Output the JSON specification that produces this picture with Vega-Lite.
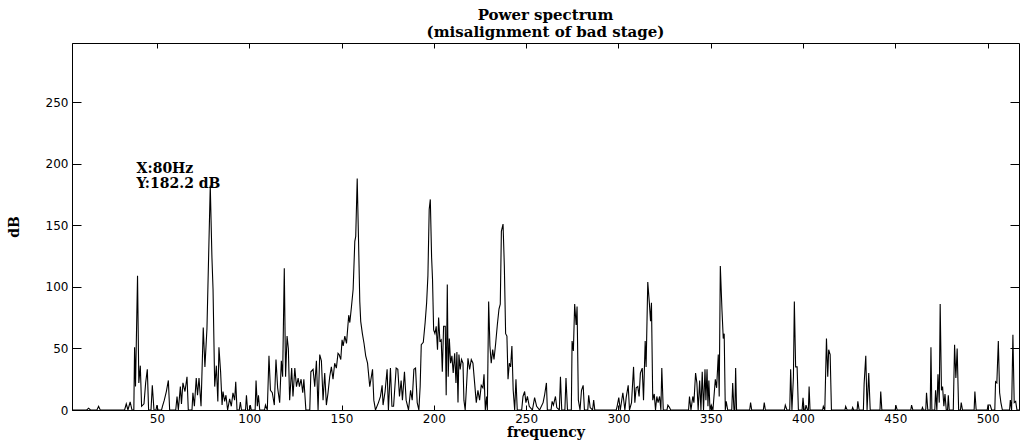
{
  "$schema": "https://vega.github.io/schema/vega-lite/v6.json",
  "width": 947,
  "height": 367,
  "autosize": {"type": "none"},
  "padding": {"left": 72, "top": 43, "right": 7, "bottom": 35},
  "background": "white",
  "title": {
    "text": ["Power spectrum", "(misalignment of bad stage)"],
    "font": "DejaVu Serif",
    "fontWeight": "bold",
    "fontSize": 15,
    "lineHeight": 17,
    "color": "black",
    "offset": 3,
    "anchor": "middle"
  },
  "config": {
    "view": {"stroke": "black", "strokeWidth": 1},
    "axis": {
      "grid": false,
      "domainColor": "black",
      "tickColor": "black",
      "labelColor": "black",
      "titleColor": "black",
      "labelFont": "DejaVu Sans",
      "labelFontSize": 12,
      "titleFont": "DejaVu Serif",
      "titleFontWeight": "bold",
      "titleFontSize": 14,
      "labelFlush": false,
      "labelOverlap": false
    }
  },
  "layer": [
    {
      "data": {
        "values": [
          {"f":4,"dB":0},{"f":12,"dB":0},{"f":13,"dB":1.5},{"f":14,"dB":0},{"f":17.5,"dB":0},{"f":18.4,"dB":3},{"f":19.3,"dB":0},
          {"f":32.5,"dB":0},{"f":33.4,"dB":5},{"f":34.3,"dB":0},{"f":35.5,"dB":6.5},{"f":36.5,"dB":0},{"f":37.5,"dB":0},{"f":37.9,"dB":51},{"f":38.4,"dB":19},{"f":39.5,"dB":109},{"f":40.2,"dB":22},{"f":41,"dB":36},{"f":41.7,"dB":3},{"f":43,"dB":5},{"f":43.9,"dB":22},{"f":44.8,"dB":33},{"f":45.5,"dB":0},
          {"f":46.8,"dB":0},{"f":47.5,"dB":20},{"f":48.4,"dB":0},{"f":49.5,"dB":0},{"f":50,"dB":4},{"f":50.6,"dB":0},{"f":52.5,"dB":0},{"f":53,"dB":3},{"f":54,"dB":8},{"f":55.1,"dB":15},{"f":56.2,"dB":24},{"f":56.9,"dB":0},
          {"f":60.2,"dB":0},{"f":60.9,"dB":11},{"f":61.6,"dB":0},{"f":62.7,"dB":19},{"f":63.3,"dB":5},{"f":64.1,"dB":22},{"f":65.2,"dB":15},{"f":66.3,"dB":27},{"f":67,"dB":0},{"f":69,"dB":0},{"f":69.5,"dB":14},{"f":70.3,"dB":3},{"f":71.3,"dB":26},{"f":72,"dB":12},{"f":72.8,"dB":26},{"f":73.9,"dB":3},
          {"f":75.1,"dB":67},{"f":76,"dB":35},{"f":77.1,"dB":66},{"f":78.9,"dB":182.2},{"f":79.8,"dB":124},{"f":80.4,"dB":98},{"f":81.3,"dB":19},{"f":82.2,"dB":36},{"f":83,"dB":7},{"f":83.6,"dB":51},{"f":84.5,"dB":31},{"f":85.3,"dB":4},{"f":85.8,"dB":15},{"f":86.7,"dB":7},{"f":87.4,"dB":12},{"f":88.3,"dB":0},{"f":89.4,"dB":9},{"f":90.3,"dB":3},{"f":91.2,"dB":14},{"f":92.1,"dB":8},{"f":92.7,"dB":23},{"f":93.4,"dB":0},
          {"f":94.6,"dB":0},{"f":95.2,"dB":6.5},{"f":95.8,"dB":0},{"f":98,"dB":0},{"f":98.5,"dB":12},{"f":99.1,"dB":0},{"f":100.2,"dB":0},{"f":100.6,"dB":4},{"f":101.1,"dB":0},{"f":103.2,"dB":0},{"f":103.7,"dB":24},{"f":104.4,"dB":3},{"f":105,"dB":12},{"f":105.7,"dB":0},
          {"f":108.3,"dB":0},{"f":108.8,"dB":4},{"f":109.8,"dB":0},{"f":110.7,"dB":44},{"f":111.5,"dB":16},{"f":112.5,"dB":14},{"f":113.6,"dB":4},{"f":114.5,"dB":41},{"f":115.4,"dB":18},{"f":116.5,"dB":6},{"f":117.4,"dB":40},{"f":118.1,"dB":27},{"f":119,"dB":115},{"f":119.7,"dB":27},{"f":120.5,"dB":60},{"f":121.2,"dB":50},{"f":121.9,"dB":8},{"f":123,"dB":34},{"f":123.7,"dB":11},{"f":124.7,"dB":34},{"f":125.6,"dB":19},{"f":126.5,"dB":26},{"f":127.2,"dB":19},{"f":128.1,"dB":25},{"f":129,"dB":14},{"f":129.6,"dB":25},{"f":130.7,"dB":0},
          {"f":132.8,"dB":0},{"f":133.4,"dB":31},{"f":134.6,"dB":33},{"f":135.5,"dB":19},{"f":136.4,"dB":40},{"f":137.3,"dB":0},{"f":138.2,"dB":45},{"f":139.1,"dB":40},{"f":140,"dB":8},{"f":140.9,"dB":30},{"f":141.8,"dB":4},{"f":142.7,"dB":14},{"f":143.6,"dB":27},{"f":144.5,"dB":35},{"f":145.4,"dB":25},{"f":146.3,"dB":38},{"f":147.2,"dB":34},{"f":148.1,"dB":46},{"f":148.7,"dB":45},{"f":149.6,"dB":41},{"f":150.3,"dB":57},{"f":150.9,"dB":52},{"f":151.8,"dB":60},{"f":152.7,"dB":54},{"f":153.9,"dB":77},{"f":154.5,"dB":71},{"f":155.4,"dB":84},{"f":156.3,"dB":98},{"f":157.2,"dB":137},{"f":157.7,"dB":141},{"f":158.5,"dB":188},{"f":159.2,"dB":139},{"f":159.9,"dB":88},{"f":160.4,"dB":72},{"f":161.3,"dB":62},{"f":162.2,"dB":54},{"f":163.1,"dB":44},{"f":164.1,"dB":38},{"f":165.3,"dB":19},{"f":166.8,"dB":33},{"f":167.5,"dB":8},{"f":168.4,"dB":0},
          {"f":170,"dB":6},{"f":171.1,"dB":11},{"f":172,"dB":20},{"f":172.5,"dB":4},{"f":173.6,"dB":15},{"f":174.7,"dB":33},{"f":175.4,"dB":0},{"f":176.5,"dB":34},{"f":177.3,"dB":3},{"f":178.2,"dB":3},{"f":179.6,"dB":34},{"f":180.5,"dB":33},{"f":181.4,"dB":11},{"f":182.3,"dB":24},{"f":183,"dB":8},{"f":184.1,"dB":31},{"f":185,"dB":8},{"f":186.3,"dB":0},{"f":187.4,"dB":16},{"f":188.3,"dB":8},{"f":189.2,"dB":33},{"f":190.1,"dB":34},{"f":191,"dB":6},{"f":191.9,"dB":0},
          {"f":192.6,"dB":19},{"f":193.2,"dB":53},{"f":194.3,"dB":55},{"f":195.3,"dB":71},{"f":196.1,"dB":87},{"f":196.8,"dB":109},{"f":197.5,"dB":163},{"f":198.1,"dB":171},{"f":198.8,"dB":124},{"f":199.3,"dB":106},{"f":199.9,"dB":65},{"f":200.6,"dB":62},{"f":201.3,"dB":68},{"f":202,"dB":49},{"f":202.6,"dB":75},{"f":203.3,"dB":56},{"f":204,"dB":57},{"f":204.6,"dB":31},{"f":205.3,"dB":68},{"f":206.2,"dB":68},{"f":206.7,"dB":12},{"f":207.3,"dB":102},{"f":207.8,"dB":27},{"f":208.4,"dB":58},{"f":209.1,"dB":38},{"f":209.8,"dB":44},{"f":210.5,"dB":30},{"f":211.3,"dB":46},{"f":212,"dB":22},{"f":212.5,"dB":47},{"f":213.1,"dB":6},{"f":213.6,"dB":45},{"f":214.3,"dB":33},{"f":215,"dB":41},{"f":215.8,"dB":38},{"f":216.3,"dB":8},{"f":217,"dB":0},
          {"f":217.8,"dB":22},{"f":218.5,"dB":42},{"f":219.4,"dB":33},{"f":220.3,"dB":41},{"f":221.2,"dB":38},{"f":222.1,"dB":22},{"f":223,"dB":6},{"f":223.9,"dB":16},{"f":224.8,"dB":8},{"f":225.7,"dB":20},{"f":226.6,"dB":18},{"f":227.2,"dB":29},{"f":227.9,"dB":0},{"f":228.6,"dB":11},{"f":229,"dB":0},
          {"f":229.7,"dB":88},{"f":230.4,"dB":52},{"f":231.1,"dB":38},{"f":231.9,"dB":49},{"f":232.6,"dB":41},{"f":233.5,"dB":54},{"f":234.4,"dB":69},{"f":235.3,"dB":82},{"f":236,"dB":86},{"f":236.6,"dB":145},{"f":237.5,"dB":151},{"f":238.2,"dB":117},{"f":238.9,"dB":62},{"f":239.6,"dB":60},{"f":240.2,"dB":25},{"f":240.9,"dB":38},{"f":241.6,"dB":35},{"f":242.3,"dB":52},{"f":243,"dB":16},{"f":243.8,"dB":0},{"f":244.5,"dB":25},{"f":245.2,"dB":0},
          {"f":247.6,"dB":0},{"f":248.3,"dB":11},{"f":249.2,"dB":15},{"f":249.9,"dB":6},{"f":250.7,"dB":11},{"f":251.7,"dB":3},{"f":253.4,"dB":0},{"f":254.6,"dB":10},{"f":255.7,"dB":3},{"f":257.3,"dB":0},{"f":259.2,"dB":6},{"f":260,"dB":12},{"f":261,"dB":22},{"f":261.5,"dB":0},
          {"f":263.5,"dB":0},{"f":264.1,"dB":7},{"f":264.8,"dB":4},{"f":265.9,"dB":11},{"f":266.6,"dB":2},{"f":268,"dB":0},{"f":268.6,"dB":27},{"f":269.3,"dB":0},{"f":271,"dB":0},{"f":271.6,"dB":26},{"f":272.4,"dB":0},
          {"f":274.5,"dB":0},{"f":274.9,"dB":56},{"f":275.6,"dB":48},{"f":276.3,"dB":86},{"f":277.1,"dB":69},{"f":277.6,"dB":84},{"f":278.3,"dB":8},{"f":279.2,"dB":0},{"f":280,"dB":16},{"f":280.9,"dB":20},{"f":281.6,"dB":0},{"f":283.4,"dB":0},{"f":283.9,"dB":12},{"f":284.7,"dB":2},{"f":286,"dB":0},{"f":286.6,"dB":8},{"f":287.2,"dB":0},
          {"f":298.8,"dB":0},{"f":299.3,"dB":3},{"f":300.2,"dB":10},{"f":301,"dB":0},{"f":302.4,"dB":14},{"f":303.5,"dB":0},{"f":304.2,"dB":10},{"f":305.3,"dB":20},{"f":306,"dB":0},{"f":307.1,"dB":6},{"f":308.2,"dB":35},{"f":308.9,"dB":6},{"f":309.6,"dB":18},{"f":310.5,"dB":19},{"f":311.2,"dB":11},{"f":311.9,"dB":30},{"f":312.9,"dB":34},{"f":313.6,"dB":8},{"f":314.5,"dB":56},{"f":315,"dB":35},{"f":315.9,"dB":104},{"f":316.8,"dB":86},{"f":317.4,"dB":72},{"f":317.9,"dB":87},{"f":318.6,"dB":8},{"f":319.4,"dB":13},{"f":320.1,"dB":0},{"f":320.8,"dB":11},{"f":321.5,"dB":6},{"f":322.3,"dB":11},{"f":323,"dB":0},{"f":323.5,"dB":34},{"f":324.3,"dB":0},{"f":326.3,"dB":0},{"f":326.8,"dB":4},{"f":327.7,"dB":2},{"f":328.3,"dB":0},
          {"f":338,"dB":0},{"f":338.5,"dB":11},{"f":339.3,"dB":0},{"f":340.3,"dB":11},{"f":340.9,"dB":6},{"f":341.8,"dB":30},{"f":342.5,"dB":22},{"f":343.2,"dB":0},{"f":344,"dB":24},{"f":344.7,"dB":0},{"f":345.4,"dB":31},{"f":346.1,"dB":0},{"f":346.9,"dB":33},{"f":347.4,"dB":8},{"f":348,"dB":33},{"f":348.5,"dB":3},{"f":349,"dB":24},{"f":349.6,"dB":0},{"f":350.3,"dB":4},{"f":351.2,"dB":0},{"f":352.5,"dB":25},{"f":353.2,"dB":18},{"f":354.1,"dB":45},{"f":354.6,"dB":11},{"f":355.2,"dB":117},{"f":356.1,"dB":81},{"f":356.8,"dB":58},{"f":357.3,"dB":62},{"f":357.9,"dB":0},{"f":358.4,"dB":7},{"f":359.2,"dB":0},{"f":361.4,"dB":0},{"f":361.9,"dB":22},{"f":362.6,"dB":0},{"f":363.1,"dB":0},{"f":363.5,"dB":34},{"f":364,"dB":0},
          {"f":371.1,"dB":0},{"f":371.6,"dB":6},{"f":372.2,"dB":0},{"f":378.5,"dB":0},{"f":379,"dB":6},{"f":379.6,"dB":0},{"f":389.9,"dB":0},{"f":390.4,"dB":4},{"f":391.3,"dB":0},{"f":392.8,"dB":0},{"f":393.3,"dB":33},{"f":394,"dB":0},{"f":394.8,"dB":27},{"f":395.3,"dB":88},{"f":396,"dB":35},{"f":396.8,"dB":35},{"f":397.5,"dB":0},{"f":399.5,"dB":0},{"f":400,"dB":10},{"f":400.6,"dB":0},{"f":401.2,"dB":0},{"f":401.6,"dB":4},{"f":402.4,"dB":0},{"f":402.9,"dB":0},{"f":403.3,"dB":19},{"f":403.8,"dB":0},
          {"f":410.6,"dB":0},{"f":411,"dB":3},{"f":411.8,"dB":0},{"f":412.7,"dB":58},{"f":413.4,"dB":27},{"f":413.9,"dB":49},{"f":414.7,"dB":45},{"f":415.4,"dB":0},{"f":422.7,"dB":0},{"f":423.1,"dB":3},{"f":423.9,"dB":0},{"f":426.5,"dB":0},{"f":426.9,"dB":2},{"f":427.4,"dB":0},{"f":429.3,"dB":0},{"f":429.7,"dB":7},{"f":430.4,"dB":0},
          {"f":432.7,"dB":0},{"f":433.1,"dB":21},{"f":434,"dB":44},{"f":434.7,"dB":0},{"f":435.6,"dB":30},{"f":436.4,"dB":0},{"f":441.7,"dB":0},{"f":442.1,"dB":15},{"f":442.7,"dB":0},{"f":449.9,"dB":0},{"f":450.3,"dB":4},{"f":451,"dB":0},{"f":458.4,"dB":0},{"f":458.8,"dB":4},{"f":459.5,"dB":0},{"f":464.3,"dB":0},{"f":464.7,"dB":2},{"f":465.2,"dB":0},
          {"f":466.5,"dB":0},{"f":466.9,"dB":14},{"f":467.6,"dB":0},{"f":468.9,"dB":0},{"f":469.3,"dB":51},{"f":469.8,"dB":0},{"f":471.4,"dB":0},{"f":471.8,"dB":16},{"f":472.5,"dB":0},{"f":473.1,"dB":29},{"f":473.8,"dB":6},{"f":474.3,"dB":86},{"f":475,"dB":16},{"f":475.6,"dB":19},{"f":476.3,"dB":3},{"f":476.9,"dB":13},{"f":477.6,"dB":0},{"f":478.3,"dB":0},{"f":478.7,"dB":12},{"f":479.2,"dB":0},{"f":481.4,"dB":0},{"f":482.1,"dB":53},{"f":482.8,"dB":26},{"f":483.5,"dB":50},{"f":484.3,"dB":0},{"f":485.3,"dB":0},{"f":485.7,"dB":6},{"f":486.4,"dB":0},
          {"f":492.7,"dB":0},{"f":493.1,"dB":15},{"f":493.8,"dB":0},{"f":499.8,"dB":0},{"f":500.2,"dB":4},{"f":501.4,"dB":4},{"f":502.2,"dB":0},{"f":503.9,"dB":0},{"f":504.3,"dB":23},{"f":505,"dB":22},{"f":505.8,"dB":56},{"f":506.5,"dB":14},{"f":507.2,"dB":6},{"f":508,"dB":0},{"f":511.9,"dB":0},{"f":512.3,"dB":8},{"f":513,"dB":0},{"f":513.7,"dB":61},{"f":514.4,"dB":6},{"f":515.2,"dB":7},{"f":515.9,"dB":0},{"f":517,"dB":0}
        ]
      },
      "mark": {"type": "line", "color": "#000000", "strokeWidth": 1.1, "clip": true},
      "encoding": {
        "x": {
          "field": "f",
          "type": "quantitative",
          "scale": {"domain": [4, 517], "nice": false, "zero": false},
          "axis": {
            "orient": "bottom",
            "values": [50, 100, 150, 200, 250, 300, 350, 400, 450, 500],
            "tickSize": -5,
            "labelPadding": 8,
            "title": "frequency",
            "titlePadding": 1
          }
        },
        "y": {
          "field": "dB",
          "type": "quantitative",
          "scale": {"domain": [0, 298], "nice": false, "zero": false},
          "axis": {
            "orient": "left",
            "values": [0, 50, 100, 150, 200, 250],
            "tickSize": -9,
            "labelPadding": 13,
            "title": "dB",
            "titlePadding": 24
          }
        }
      }
    },
    {
      "data": {
        "values": [
          {"f": 39, "dB": 192.2, "label": "X:80Hz"},
          {"f": 39, "dB": 180.5, "label": "Y:182.2 dB"}
        ]
      },
      "mark": {
        "type": "text",
        "align": "left",
        "baseline": "alphabetic",
        "font": "DejaVu Serif",
        "fontWeight": "bold",
        "fontSize": 14,
        "color": "black"
      },
      "encoding": {
        "x": {
          "field": "f",
          "type": "quantitative",
          "axis": {
            "orient": "top",
            "values": [50, 100, 150, 200, 250, 300, 350, 400, 450, 500],
            "tickSize": -5,
            "labels": false,
            "domain": false,
            "title": null
          }
        },
        "y": {
          "field": "dB",
          "type": "quantitative",
          "axis": {
            "orient": "right",
            "values": [0, 50, 100, 150, 200, 250],
            "tickSize": -9,
            "labels": false,
            "domain": false,
            "title": null
          }
        },
        "text": {"field": "label"}
      }
    }
  ]
}
